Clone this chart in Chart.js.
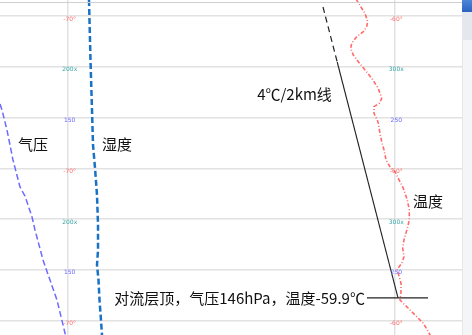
<!DOCTYPE html>
<html>
<head>
<meta charset="utf-8">
<script src="https://cdn.jsdelivr.net/npm/chart.js@4/dist/chart.umd.min.js"></script>
<style>
  body { margin: 0; background: #fff; }
  #wrap { position: relative; width: 472px; height: 335px; overflow: hidden; }
  #topline { position: absolute; left: 0; top: 2px; width: 472px; height: 1px; background: #cfcfcf; }
  #sbar { position: absolute; left: 462px; top: 0; width: 10px; height: 335px; background: #f4f5f7; border-left: 1px solid #e6e8ec; }
  #sthumb { position: absolute; left: 462px; top: 12px; width: 10px; height: 28px; background: #e4e7ee; }
  #sbtn { position: absolute; left: 462px; top: 0; width: 10px; height: 12px; background: linear-gradient(#4f86d8, #2a62c0); }
</style>
</head>
<body>
<div id="wrap">
  <canvas id="chartSounding" width="472" height="335"></canvas>
  <div id="topline"></div>
  <div id="sbar"></div>
  <div id="sthumb"></div>
  <div id="sbtn"></div>
</div>
<script>
// x: temperature column (°C), y: grid row (0 = top line)
const pressureT = [-72.073, -72.012, -71.859, -71.675, -71.461, -71.308, -71.093, -71.001, -70.756, -70.542, -70.328, -70.083, -70.052];
const pressureL = [1.733, 1.851, 2.245, 2.836, 3.367, 3.545, 3.958, 4.214, 4.805, 5.199, 5.593, 6.243, 6.341];

const humidT = [-69.348, -69.302, -69.256, -69.225, -69.164, -69.103, -69.072, -69.072, -69.103, -69.057, -69.026, -68.981, -68.950];
const humidL = [-0.315, 0.866, 1.851, 2.540, 2.993, 3.525, 4.116, 4.608, 4.903, 5.199, 5.593, 5.987, 6.282];

const tempT = [-61.173, -60.998, -60.897, -60.815, -60.845, -60.949, -61.151, -61.304, -61.335, -61.255, -61.102, -60.897, -60.692,
  -60.490, -60.386, -60.459, -60.622, -60.622, -60.521, -60.490, -60.438, -60.386, -60.315, -60.254, -60.132, -59.979, -59.878,
  -59.724, -59.602, -59.541, -59.541, -59.602, -59.703, -59.743, -59.703, -59.774, -59.908, -59.865, -59.795, -59.795, -59.826,
  -59.571, -59.314, -59.112, -58.959, -58.876];
const tempL = [-0.335, -0.152, -0.053, 0.112, 0.211, 0.309, 0.408, 0.538, 0.636, 0.768, 0.900, 1.063, 1.227,
  1.424, 1.621, 1.719, 1.786, 1.916, 2.048, 2.113, 2.310, 2.475, 2.639, 2.836, 2.968, 3.066, 3.196,
  3.393, 3.623, 3.820, 4.017, 4.181, 4.411, 4.575, 4.740, 4.870, 4.988, 5.100, 5.264, 5.429, 5.593,
  5.756, 5.922, 6.052, 6.217, 6.321];

// 4℃/2km line: dashed top part, solid rest
const lapseDashT = [-62.183, -61.748];
const lapseDashL = [-0.177, 0.906];
const lapseT = [-61.748, -59.887];
const lapseL = [0.906, 5.55];

// tropopause marker
const tropoT = [-60.836, -58.968];
const tropoL = [5.55, 5.55];

const colTicks = [-70, -60];
const rowTicks = [0, 1, 2, 3, 4, 5, 6];
const leftLabels = ["-70°", "200x", "150", "-70°", "200x", "150", "-70°"];
const rightLabels = ["-60°", "300x", "250", "-60°", "300x", "250", "-60°"];
const labelColors = ["#ff6a6a", "#3aa6a6", "#6a6aff"];

function pts(xs, ys) {
  return xs.map((x, i) => ({ x: x, y: ys[i] }));
}

const notes = [
  { text: "气压", x: -71.52, y: 2.52, align: "left" },
  { text: "湿度", x: -68.95, y: 2.52, align: "left" },
  { text: "4℃/2km线", x: -64.2, y: 1.54, align: "left" },
  { text: "温度", x: -59.43, y: 3.64, align: "left" },
  { text: "对流层顶，气压146hPa，温度-59.9℃", x: -60.9, y: 5.553, align: "right" },
];

const textPlugin = {
  id: "textPlugin",
  afterDatasetsDraw(chart) {
    const ctx = chart.ctx;
    const xs = chart.scales.x;
    const ys = chart.scales.y;
    ctx.save();
    ctx.font = "6px 'DejaVu Sans'";
    ctx.textAlign = "center";
    ctx.textBaseline = "middle";
    rowTicks.forEach((r, i) => {
      ctx.fillStyle = labelColors[i % 3];
      ctx.fillText(leftLabels[i], xs.getPixelForValue(colTicks[0]) + 2, ys.getPixelForValue(r) + 3);
      ctx.fillText(rightLabels[i], xs.getPixelForValue(colTicks[1]) + 2, ys.getPixelForValue(r) + 3);
    });
    ctx.font = "15px 'Noto Sans CJK SC'";
    ctx.fillStyle = "#111";
    notes.forEach((n) => {
      ctx.textAlign = n.align;
      ctx.fillText(n.text, xs.getPixelForValue(n.x), ys.getPixelForValue(n.y));
    });
    ctx.restore();
  },
};

const chartSounding = document.getElementById("chartSounding");
new Chart(chartSounding, {
  type: "scatter",
  data: {
    datasets: [
      {
        label: "气压",
        data: pts(pressureT, pressureL),
        showLine: true,
        borderColor: "#6b6bff",
        borderWidth: 1.5,
        borderDash: [6, 3],
        pointRadius: 0,
      },
      {
        label: "湿度",
        data: pts(humidT, humidL),
        showLine: true,
        borderColor: "#1a72c4",
        borderWidth: 2.5,
        borderDash: [6, 3],
        pointRadius: 0,
      },
      {
        label: "温度",
        data: pts(tempT, tempL),
        showLine: true,
        borderColor: "#ff6b6b",
        borderWidth: 1.6,
        borderDash: [4, 2, 1, 2],
        pointRadius: 0,
      },
      {
        label: "4℃/2km",
        data: pts(lapseDashT, lapseDashL),
        showLine: true,
        borderColor: "#222",
        borderWidth: 1.2,
        borderDash: [6, 4],
        pointRadius: 0,
      },
      {
        label: "4℃/2km",
        data: pts(lapseT, lapseL),
        showLine: true,
        borderColor: "#222",
        borderWidth: 1.1,
        pointRadius: 0,
      },
      {
        label: "对流层顶",
        data: pts(tropoT, tropoL),
        showLine: true,
        borderColor: "#222",
        borderWidth: 1.1,
        pointRadius: 0,
      },
    ],
  },
  options: {
    responsive: false,
    animation: false,
    devicePixelRatio: 1,
    layout: { padding: 0 },
    scales: {
      x: {
        type: "linear",
        min: -72.073,
        max: -57.621,
        afterBuildTicks: (s) => { s.ticks = colTicks.map((v) => ({ value: v })); },
        ticks: { display: false },
        grid: { color: "#e2e2e2", lineWidth: 1.5, drawTicks: false },
        border: { display: false },
      },
      y: {
        type: "linear",
        reverse: true,
        min: -0.315,
        max: 6.282,
        afterBuildTicks: (s) => { s.ticks = rowTicks.map((v) => ({ value: v })); },
        ticks: { display: false },
        grid: { color: "#e2e2e2", lineWidth: 1.5, drawTicks: false },
        border: { display: false },
      },
    },
    plugins: {
      legend: { display: false },
      tooltip: { enabled: false },
    },
  },
  plugins: [textPlugin],
});
</script>
</body>
</html>
